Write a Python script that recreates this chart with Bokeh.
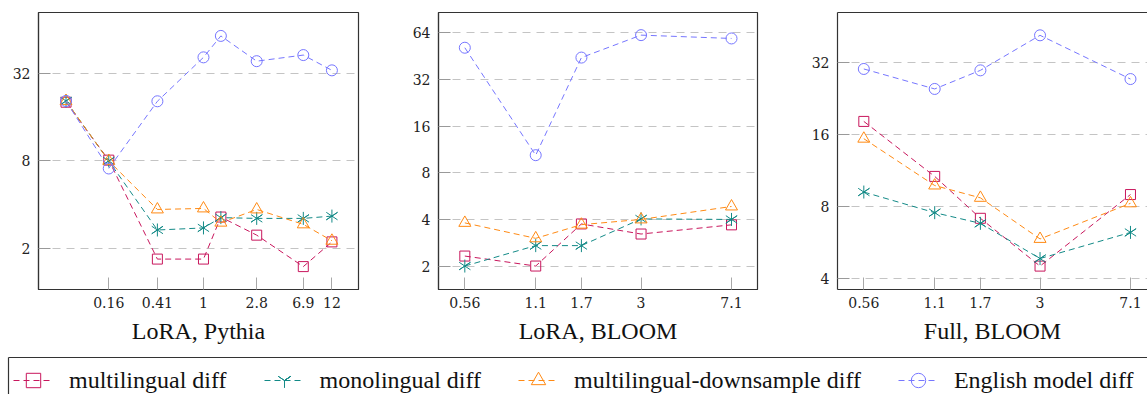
import numpy as np
from bokeh.plotting import figure
from bokeh.models import FixedTicker, LinearAxis, Legend, LegendItem, Range1d
from bokeh.layouts import row, column
from bokeh.embed import file_html
from bokeh.resources import INLINE

# ---------------- data ----------------
series_names = ["multilingual diff", "monolingual diff",
                "multilingual-downsample diff", "English model diff"]

# LoRA, Pythia (model size in billions)
pythia_x = [0.07, 0.16, 0.41, 1.0, 1.4, 2.8, 6.9, 12.0]
pythia_multi = [20.2, 8.1, 1.70, 1.70, 3.3, 2.48, 1.51, 2.23]
pythia_mono = [20.6, 8.0, 2.69, 2.78, 3.27, 3.23, 3.23, 3.35]
pythia_down = [20.6, 8.0, 3.72, 3.78, 3.02, 3.72, 2.94, 2.27]
pythia_eng = [20.6, 7.1, 20.5, 41.0, 57.5, 38.6, 42.5, 33.4]
pythia_xticks = [0.16, 0.41, 1.0, 2.8, 6.9, 12.0]
pythia_xlabels = ["0.16", "0.41", "1", "2.8", "6.9", "12"]
pythia_yticks = [2.0, 8.0, 32.0]
pythia_ylabels = ["2", "8", "32"]

# LoRA, BLOOM
bloom_x = [0.56, 1.1, 1.7, 3.0, 7.1]
lora_bloom_multi = [2.32, 2.0, 3.74, 3.22, 3.69]
lora_bloom_mono = [2.0, 2.71, 2.71, 4.03, 4.0]
lora_bloom_down = [3.80, 3.02, 3.70, 4.0, 4.85]
lora_bloom_eng = [51.4, 10.4, 44.4, 62.0, 59.0]
bloom_xticks = [0.56, 1.1, 1.7, 3.0, 7.1]
bloom_xlabels = ["0.56", "1.1", "1.7", "3", "7.1"]
lora_bloom_yticks = [2.0, 4.0, 8.0, 16.0, 32.0, 64.0]
lora_bloom_ylabels = ["2", "4", "8", "16", "32", "64"]

# Full, BLOOM
full_bloom_multi = [18.2, 10.7, 7.14, 4.5, 8.98]
full_bloom_mono = [9.2, 7.54, 6.8, 4.84, 6.23]
full_bloom_down = [15.4, 9.8, 8.7, 5.85, 8.25]
full_bloom_eng = [30.2, 24.9, 29.8, 41.8, 27.4]
full_bloom_yticks = [4.0, 8.0, 16.0, 32.0]
full_bloom_ylabels = ["4", "8", "16", "32"]

panel_titles = ["LoRA, Pythia", "LoRA, BLOOM", "Full, BLOOM"]

# ---------------- styles ----------------
COLORS = ["#c8175d", "#138a87", "#ff8a14", "#7676ff"]
FRAME = "#333333"
TICK_FONT = "DejaVu Serif"
TEXT_FONT = "Liberation Serif"
DASH = "6 4"


def add_series(p, x, y, k, with_line=True):
    c = COLORS[k]
    rs = []
    if with_line:
        rs.append(p.line(x, y, line_color=c, line_width=1, line_dash=DASH))
    if k == 0:
        rs.append(p.scatter(x, y, marker="square", size=10, line_color=c,
                            fill_color=None, line_width=1))
    elif k == 1:
        rs.append(p.scatter(x, y, marker="y", size=13, line_color=c,
                            fill_color=None, line_width=1))
        rs.append(p.scatter(x, y, marker="y", size=13, angle=np.pi, line_color=c,
                            fill_color=None, line_width=1))
    elif k == 2:
        rs.append(p.scatter(x, y, marker="triangle", size=12, line_color=c,
                            fill_color=None, line_width=1))
    else:
        rs.append(p.scatter(x, y, marker="circle", size=11, line_color=c,
                            fill_color=None, line_width=1))
    return rs


def bare_axis():
    return LinearAxis(ticker=FixedTicker(ticks=[]), axis_line_color=FRAME,
                      axis_line_width=1.2, major_tick_line_color=None,
                      minor_tick_line_color=None, major_label_standoff=0,
                      major_tick_in=0, major_tick_out=0,
                      major_label_text_font_size="0px")


def make_panel(width, bl, br, bt, bb, xr, yr, xticks, xlabels, yticks, ylabels,
               title, open_right=False):
    p = figure(width=width, height=355, x_axis_type="log", y_axis_type="log",
               x_range=Range1d(*xr), y_range=Range1d(*yr),
               output_backend="svg", toolbar_location=None,
               min_border_left=bl, min_border_right=br,
               min_border_top=bt, min_border_bottom=bb)
    p.background_fill_color = "white"
    p.border_fill_color = "white"

    xa = p.below[0]
    xa.ticker = FixedTicker(ticks=xticks)
    xa.major_label_overrides = {t: l for t, l in zip(xticks, xlabels)}
    xa.major_tick_in = 12
    xa.major_tick_out = 0
    xa.major_tick_line_color = "#a8a8a8"
    xa.minor_tick_line_color = None
    xa.axis_line_color = FRAME
    xa.axis_line_width = 1.2
    xa.major_label_text_font = TICK_FONT
    xa.major_label_text_font_size = "14px"
    xa.major_label_text_color = "#222222"
    xa.major_label_standoff = 7
    xa.axis_label = title
    xa.axis_label_text_font = TEXT_FONT
    xa.axis_label_text_font_size = "24px"
    xa.axis_label_text_font_style = "normal"
    xa.axis_label_text_color = "#111111"
    xa.axis_label_standoff = 7

    ya = p.left[0]
    ya.ticker = FixedTicker(ticks=yticks)
    ya.major_label_overrides = {t: l for t, l in zip(yticks, ylabels)}
    ya.major_tick_in = 12
    ya.major_tick_out = 0
    ya.major_tick_line_color = "#999999"
    ya.minor_tick_line_color = None
    ya.axis_line_color = FRAME
    ya.axis_line_width = 1.2
    ya.major_label_text_font = TICK_FONT
    ya.major_label_text_font_size = "14px"
    ya.major_label_text_color = "#222222"
    ya.major_label_standoff = 8

    if open_right:
        p.outline_line_color = None
        p.add_layout(bare_axis(), "above")
    else:
        p.outline_line_color = FRAME
        p.outline_line_width = 1.2
        p.outline_line_alpha = 1.0

    p.xgrid.visible = False
    p.ygrid.ticker = FixedTicker(ticks=yticks)
    p.ygrid.grid_line_color = "#c4c4c4"
    p.ygrid.grid_line_dash = "8 6"
    p.ygrid.grid_line_width = 1
    return p


f1 = make_panel(398, 38, 40, 10, 66, (0.0411, 20.07), (1.052, 83.2),
                pythia_xticks, pythia_xlabels, pythia_yticks, pythia_ylabels,
                panel_titles[0])
f2 = make_panel(399, 40, 40, 12, 63, (0.4358, 9.095), (1.411, 86.8),
                bloom_xticks, bloom_xlabels, lora_bloom_yticks, lora_bloom_ylabels,
                panel_titles[1])
f3 = make_panel(350, 40, 0, 12, 63, (0.4358, 8.35), (3.59, 52.1),
                bloom_xticks, bloom_xlabels, full_bloom_yticks, full_bloom_ylabels,
                panel_titles[2], open_right=True)

for k, ys in enumerate([pythia_multi, pythia_mono, pythia_down, pythia_eng]):
    add_series(f1, pythia_x, ys, k)
for k, ys in enumerate([lora_bloom_multi, lora_bloom_mono, lora_bloom_down, lora_bloom_eng]):
    add_series(f2, bloom_x, ys, k)
for k, ys in enumerate([full_bloom_multi, full_bloom_mono, full_bloom_down, full_bloom_eng]):
    add_series(f3, bloom_x, ys, k)

# ---------------- legend strip ----------------
# The legend's glyph renderers reuse the Pythia series but the strip's ranges
# lie far outside the data, so only the legend samples are visible.
lg = figure(width=1147, height=39, x_range=Range1d(1000, 1001),
            y_range=Range1d(1000, 1001),
            output_backend="svg", toolbar_location=None,
            min_border_left=8, min_border_right=0, min_border_top=2, min_border_bottom=0)
lg.outline_line_color = None
lg.background_fill_color = "white"
lg.border_fill_color = "white"
lg.xaxis.visible = False
lg.yaxis.visible = False
lg.grid.visible = False
lg.add_layout(bare_axis(), "left")
lg.add_layout(bare_axis(), "above")

items = []
for k, (name, ys) in enumerate(zip(series_names,
                                   [pythia_multi, pythia_mono, pythia_down, pythia_eng])):
    rs = add_series(lg, pythia_x, ys, k)
    items.append(LegendItem(label=name, renderers=rs))

legend = Legend(items=items, orientation="horizontal", location="top_left",
                margin=5, padding=7, spacing=37, glyph_width=40, glyph_height=36,
                label_standoff=16, label_text_font=TEXT_FONT,
                label_text_font_size="24px", label_text_color="#111111",
                border_line_color=None, background_fill_alpha=0)
lg.add_layout(legend, "center")

layout = column(row(f1, f2, f3, spacing=0), lg, spacing=0)

open("out.html", "w").write(file_html(layout, INLINE))
